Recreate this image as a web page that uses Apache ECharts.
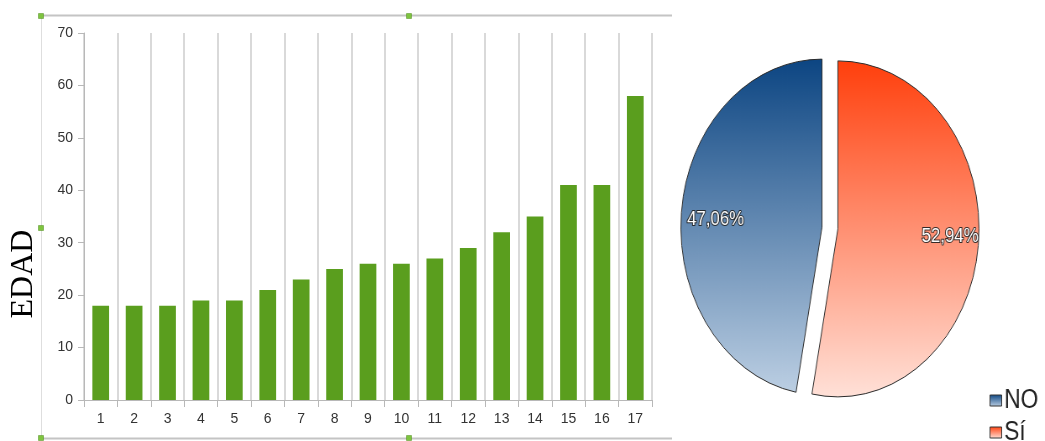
<!DOCTYPE html>
<html>
<head>
<meta charset="utf-8">
<script src="https://cdn.jsdelivr.net/npm/echarts@6/dist/echarts.min.js"></script>
<style>
  html, body { margin: 0; padding: 0; background: #fff; overflow: hidden; }
  #bars { position: absolute; left: 0; top: 0; width: 1045px; height: 441px; }
  /* the pie is drawn in its own layer, stretched into an ellipse */
  #pie { position: absolute; left: 0; top: 0; width: 1244px; height: 441px;
         transform: scaleX(0.84); transform-origin: 0 0; }
</style>
</head>
<body>
<div id="bars"></div>
<div id="pie"></div>
<script>
// Ages per respondent (bar chart)
const categories = ['1','2','3','4','5','6','7','8','9','10','11','12','13','14','15','16','17'];
const ages = [18, 18, 18, 19, 19, 21, 23, 25, 26, 26, 27, 29, 32, 35, 41, 41, 58];
const yMin = 0, yMax = 70, yStep = 10;
const yTitle = 'EDAD';

// Answers (pie chart)
const answerNames = ['Sí', 'NO'];
const answerCounts = [9, 8];
const legendOrder = ['NO', 'Sí'];

const frameColor = '#c4c4c4';
const handleStyle = { fill: '#7ec43f', stroke: '#4e8a1c', lineWidth: 0.5 };
const handles = [[41, 16], [409, 16], [41, 228], [409, 438], [41, 438]];

const bars = echarts.init(document.getElementById('bars'));
bars.setOption({
  animation: false,
  grid: { left: 84, right: 393, top: 33, bottom: 41 },
  xAxis: {
    type: 'category',
    data: categories,
    axisLine: { show: true, lineStyle: { color: '#b8b8b8', width: 1 } },
    axisTick: { show: true, length: 7, lineStyle: { color: '#b8b8b8' } },
    axisLabel: { color: '#333', fontSize: 14, fontFamily: 'Liberation Sans', margin: 12 },
    splitLine: { show: true, lineStyle: { color: '#cdcdcd', width: 1.5 } }
  },
  yAxis: {
    type: 'value',
    min: yMin, max: yMax, interval: yStep,
    axisLine: { show: true, lineStyle: { color: '#b8b8b8', width: 1 } },
    axisTick: { show: true, length: 6, lineStyle: { color: '#b8b8b8' } },
    axisLabel: { color: '#333', fontSize: 14, fontFamily: 'Liberation Sans', margin: 11 },
    splitLine: { show: false }
  },
  series: [{
    type: 'bar',
    data: ages,
    barWidth: '50%',
    itemStyle: { color: '#5a9e1e' }
  }],
  graphic: [
    { type: 'line', shape: { x1: 41, y1: 15.5, x2: 672, y2: 15.5 }, style: { stroke: frameColor, lineWidth: 2 } },
    { type: 'line', shape: { x1: 41, y1: 438.5, x2: 672, y2: 438.5 }, style: { stroke: frameColor, lineWidth: 2 } },
    { type: 'line', shape: { x1: 41.5, y1: 15, x2: 41.5, y2: 439 }, style: { stroke: '#dedede', lineWidth: 1 } },
    {
      type: 'text', x: 24, y: 274, rotation: Math.PI / 2,
      style: { text: yTitle, fill: '#000', font: '32px "Liberation Serif"', align: 'center', verticalAlign: 'middle' }
    }
  ].concat(handles.map(function (p) {
    return { type: 'rect', shape: { x: p[0] - 2.5, y: p[1] - 2.5, width: 5, height: 5 }, style: handleStyle, z: 10 };
  }))
});

function grad(top, bottom) {
  return new echarts.graphic.LinearGradient(0, 0, 0, 1, [
    { offset: 0, color: top },
    { offset: 1, color: bottom }
  ]);
}
const sliceColors = {
  'Sí': grad('#ff3f0c', '#ffe1d8'),
  'NO': grad('#0c4582', '#bccfe3')
};
const labelShift = { 'Sí': 47, 'NO': -40 };

const pie = echarts.init(document.getElementById('pie'));
pie.setOption({
  animation: false,
  legend: {
    data: legendOrder,
    orient: 'vertical',
    icon: 'rect',
    left: 1178,
    top: 387,
    height: 80,
    padding: 0,
    itemWidth: 14,
    itemHeight: 11,
    itemGap: 5,
    textStyle: { color: '#222', fontSize: 27, lineHeight: 20, fontFamily: 'Liberation Sans', padding: [0, 0, 0, -2] },
    itemStyle: { borderColor: '#333', borderWidth: 1 }
  },
  series: [{
    type: 'pie',
    center: [988, 228],
    radius: [0, 168],
    startAngle: 90,
    clockwise: true,
    selectedMode: 'multiple',
    selectedOffset: 9.5,
    data: answerNames.map(function (n, i) {
      return { name: n, value: answerCounts[i], selected: true, itemStyle: { color: sliceColors[n] } };
    }),
    itemStyle: { borderColor: '#2a2a2a', borderWidth: 1 },
    label: {
      show: true,
      position: 'inside',
      formatter: function (p) { return p.percent.toFixed(2).replace('.', ',') + '%'; },
      color: '#fff',
      fontSize: 20,
      fontFamily: 'Liberation Sans',
      textBorderColor: 'rgba(30,30,30,0.9)',
      textBorderWidth: 2
    },
    labelLayout: function (p) {
      return { dx: labelShift[answerNames[p.dataIndex]] };
    },
    labelLine: { show: false },
    emphasis: { disabled: true }
  }]
});
</script>
</body>
</html>
